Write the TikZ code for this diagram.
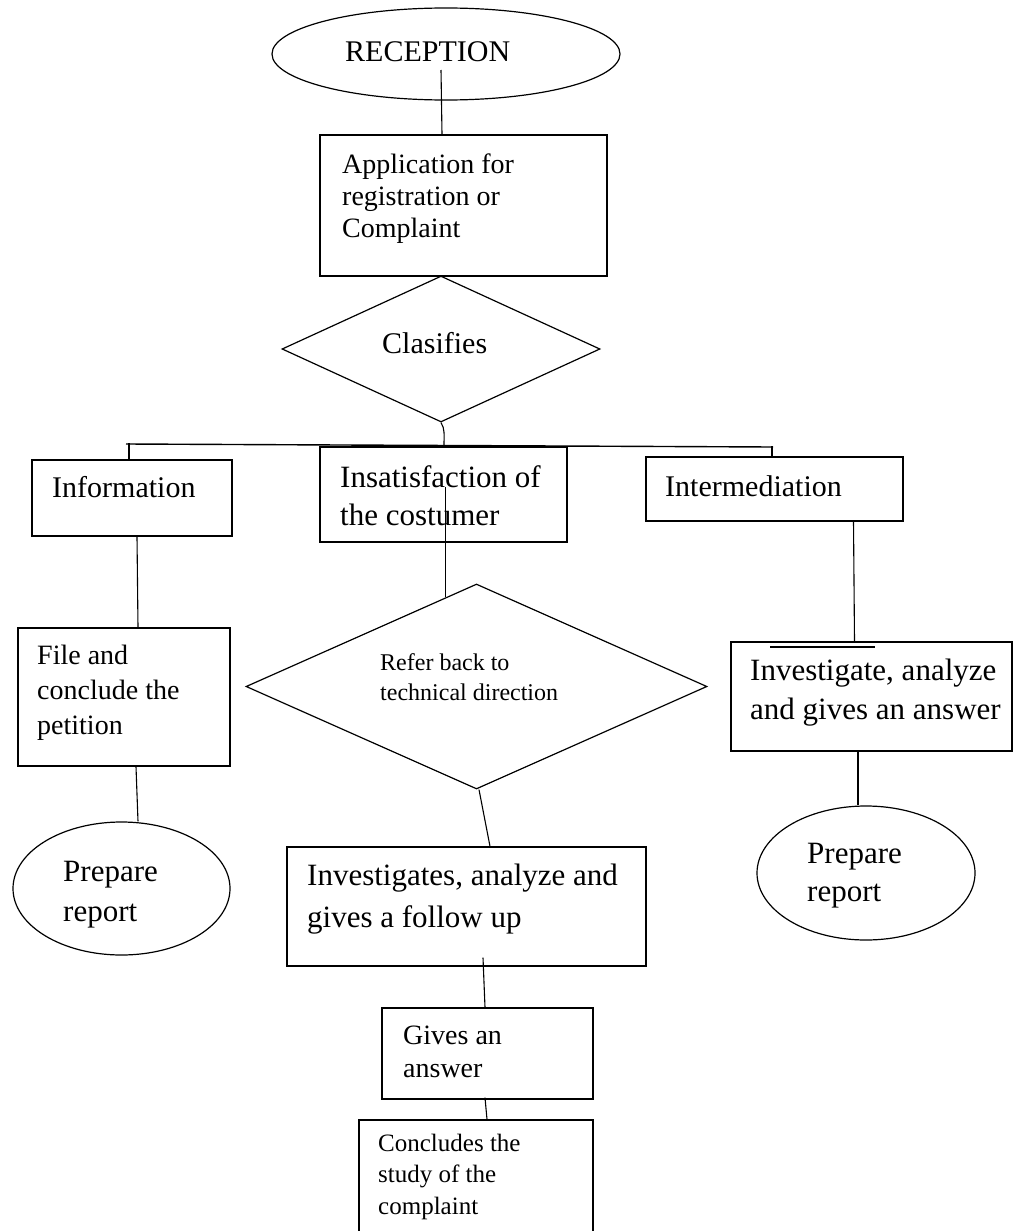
\documentclass[tikz,border=0pt]{standalone}
\usepackage{fontspec}
\setmainfont{Liberation Serif}
\usetikzlibrary{shapes.geometric,calc}
\newcommand\setfs[2]{\fontsize{#1}{#2}\selectfont}
\begin{document}
\begin{tikzpicture}[x=1pt,y=1pt,
  box/.style={draw, line width=1.3pt, rectangle, inner sep=0pt},
  oval/.style={draw, line width=1.2pt, ellipse, inner sep=0pt},
  dia/.style={draw, line width=1.2pt, diamond, inner sep=0pt},
  txt/.style={anchor=west, align=left, inner sep=0pt},
  conn/.style={line width=1.1pt}]
\useasboundingbox (0,0) rectangle (1014,-1231);

% shapes
\node[oval, minimum width=348, minimum height=92] (rec) at (446,-54) {};
\node[txt, font=\setfs{30}{36}] (recT) at (345,-52) {RECEPTION};

\node[box, minimum width=287, minimum height=141] (app) at (463.5,-205.5) {};
\node[txt, font=\setfs{28}{32}] (appT) at (342,-198.5) {Application for\\registration or\\Complaint};

\node[dia, minimum width=318, minimum height=146] (clas) at (441,-349) {};
\node[txt, font=\setfs{30}{36}] (clasT) at (382,-343) {Clasifies};

\node[box, minimum width=200, minimum height=76] (info) at (132,-498) {};
\node[txt, font=\setfs{30}{36}] (infoT) at (52,-487) {Information};

\node[box, minimum width=247, minimum height=95] (insat) at (443.5,-494.5) {};
\node[txt, font=\setfs{31}{38}] (insatT) at (340,-496) {Insatisfaction of\\the costumer};

\node[box, minimum width=257, minimum height=64] (inter) at (774.5,-489) {};
\node[txt, font=\setfs{30}{36}] (interT) at (665,-486) {Intermediation};

\node[box, minimum width=212, minimum height=138] (file) at (124,-697) {};
\node[txt, font=\setfs{28}{35}] (fileT) at (37,-692.5) {File and\\conclude the\\petition};

\node[dia, minimum width=461, minimum height=205] (refer) at (476.5,-686.5) {};
\node[txt, font=\setfs{24}{30}] (referT) at (380,-677) {Refer back to\\technical direction};

\node[box, minimum width=281, minimum height=109] (invr) at (871.5,-696.5) {};
\node[txt, font=\setfs{31}{39}] (invrT) at (750,-692.5) {Investigate, analyze\\and gives an answer};

\node[oval, minimum width=217, minimum height=133] (prL) at (121.5,-888.5) {};
\node[txt, font=\setfs{31}{40}] (prLT) at (63,-895) {Prepare\\report};

\node[oval, minimum width=218, minimum height=134] (prR) at (866,-873) {};
\node[txt, font=\setfs{31}{38}] (prRT) at (807,-876) {Prepare\\report};

\node[box, minimum width=359, minimum height=119] (invs) at (466.5,-906.5) {};
\node[txt, font=\setfs{31}{42}] (invsT) at (307,-899) {Investigates, analyze and\\gives a follow up};

\node[box, minimum width=211, minimum height=91] (gives) at (487.5,-1053.5) {};
\node[txt, font=\setfs{28}{33}] (givesT) at (403,-1051.5) {Gives an\\answer};

\node[box, minimum width=234, minimum height=130] (concl) at (476,-1185) {};
\node[txt, font=\setfs{25}{31.5}] (conclT) at (378,-1176.5) {Concludes the\\study of the\\complaint};

% connectors
\draw[conn] ([xshift=-5pt,yshift=-16pt]rec.center) -- ([xshift=-21.5pt]app.north);

\coordinate (bus) at (444,-445);
\coordinate (busL) at (126,-444);
\coordinate (busR) at (773,-447);
\draw[conn] (clas.south) .. controls +(4,-6) and +(0,10) .. (bus);
\draw[conn, line width=1.4pt] (busL) -- (busR);
\draw[conn] ([xshift=-3pt]info.north) -- ++(0,16);
\draw[conn] ([xshift=-2.5pt]inter.north) -- ++(0,10);

\draw[conn] ([xshift=5pt]info.south) -- ([xshift=14pt]file.north);
\draw[conn] ($(refer.north)!0.134!(refer.west)$) -- ++(0,110);
\draw[conn] ([xshift=79pt]inter.south) -- ([xshift=-17pt]invr.north);
\draw[conn, line width=1.8pt] ([xshift=40pt,yshift=-6pt]invr.north west) -- ++(105,0);
\draw[conn] ([xshift=12pt]file.south) -- ([xshift=16.5pt]prL.north);
\draw[conn] ([xshift=-13.5pt]invr.south) -- ([xshift=-8pt]prR.north);
\draw[conn] ([xshift=2.5pt]refer.south) -- ([xshift=23.5pt]invs.north);
\draw[conn] ([xshift=16.5pt,yshift=9pt]invs.south) -- ([xshift=-2.5pt]gives.north);
\draw[conn] ([xshift=-2.5pt,yshift=2pt]gives.south) -- ([xshift=11pt]concl.north);
\end{tikzpicture}
\end{document}
